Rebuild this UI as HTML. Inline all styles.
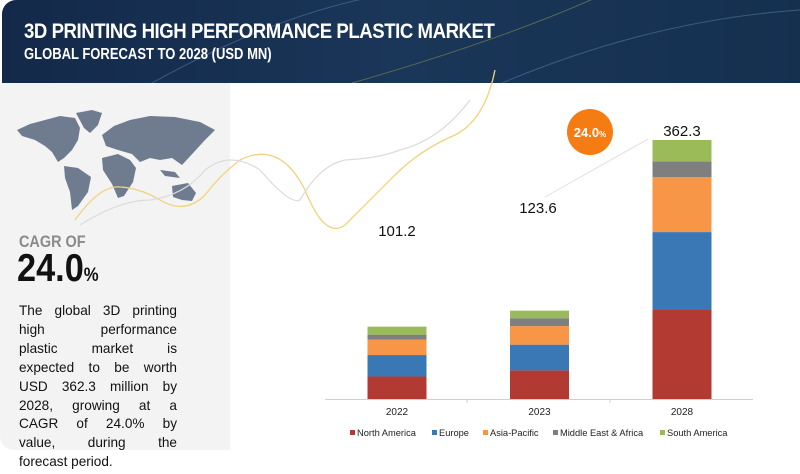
<!DOCTYPE html>
<html><head><meta charset="utf-8">
<style>
body{margin:0;width:800px;height:474px;overflow:hidden;background:#fff;font-family:"Liberation Sans",sans-serif;position:relative}
#hdr{position:absolute;left:2px;top:0;width:798px;height:83px;border-radius:14px 0 0 0;background:linear-gradient(90deg,#13294a,#1a3658 50%,#15304f);overflow:hidden}
#t1{position:absolute;left:22px;top:20px;color:#fff;font:bold 21px "Liberation Sans",sans-serif;letter-spacing:-0.5px;transform:scaleX(0.885);transform-origin:left}
#t2{position:absolute;left:22px;top:46px;color:#fff;font:bold 15.5px "Liberation Sans",sans-serif;transform:scaleX(0.84);transform-origin:left}
#panel{position:absolute;left:0;top:83px;width:230px;height:367px;background:#f3f3f3;border-radius:0 0 0 14px}
#cagr{position:absolute;left:19px;top:232px;color:#8a8a8a;font:bold 17px "Liberation Sans",sans-serif;transform:scaleX(0.85);transform-origin:left}
#big{position:absolute;left:17px;top:247px;font:bold 39px "Liberation Sans",sans-serif;color:#111;transform:scaleX(0.88);transform-origin:left}
#big span{font-size:19px}
#desc{position:absolute;left:19px;top:302px;width:158px;font-size:13.6px;line-height:18.9px;color:#111}
#desc div{text-align:justify;text-align-last:justify;white-space:nowrap}
#desc div.l{text-align-last:left}
</style></head><body>
<div id="hdr">
<svg width="798" height="83" style="position:absolute;left:0;top:0">
<path d="M150 83 Q300 0 420 -10" stroke="#3a5b80" fill="none" stroke-width="1"/>
<path d="M500 83 Q650 20 798 10" stroke="#3a5b80" fill="none"/>
<path d="M350 83 Q500 40 600 -5" stroke="#5a6a50" fill="none"/>
</svg>
<div id="t1">3D PRINTING HIGH PERFORMANCE PLASTIC MARKET</div>
<div id="t2">GLOBAL FORECAST TO 2028 (USD MN)</div>
</div>
<div id="panel"></div>
<svg width="800" height="474" style="position:absolute;left:0;top:0">
<g fill="#6f7b8e">
<path d="M17 130 L30 124 L45 120 L60 116 L75 118 L80 128 L78 140 L72 150 L64 158 L58 162 L52 152 L45 146 L35 140 L22 136 Z"/>
<path d="M76 113 L92 110 L102 113 L98 125 L90 133 L84 128 Z"/>
<path d="M64 166 L78 168 L91 177 L88 192 L78 206 L72 210 L70 192 L65 178 Z"/>
<path d="M102 158 L118 154 L130 160 L136 168 L133 182 L124 196 L118 198 L112 184 L103 170 Z"/>
<path d="M102 135 L114 126 L130 120 L150 116 L175 117 L200 122 L215 130 L205 140 L194 152 L182 165 L172 158 L160 160 L150 158 L140 162 L132 154 L118 150 L106 146 Z"/>
<path d="M172 186 L188 183 L196 193 L192 201 L182 200 L173 197 Z"/>
<path d="M160 170 L175 172 L180 178 L165 176 Z"/>
</g>
<path d="M75 220 Q100 185 120 187 Q140 188 160 200 Q185 215 205 195 Q220 175 240 160 Q280 140 305 190 Q325 240 345 225 Q375 195 395 175 Q420 150 455 135 Q485 120 495 70" stroke="#f2d27a" fill="none" stroke-width="1.3"/>
<path d="M80 225 Q120 200 150 200 Q185 195 205 170 Q230 150 260 170 Q290 205 300 200 Q320 165 345 160 Q380 158 400 150 Q440 140 470 100" stroke="#dcdcdc" fill="none" stroke-width="1.3"/>
</svg>
<div id="cagr">CAGR OF</div>
<div id="big">24.0<span>%</span></div>
<div id="desc">
<div>The global 3D printing</div><div>high performance</div><div>plastic market is</div><div>expected to be worth</div><div>USD 362.3 million by</div><div>2028, growing at a</div><div>CAGR of 24.0% by</div><div>value, during the</div><div class="l">forecast period.</div>
</div>
<svg id="chart" width="800" height="474" style="position:absolute;left:0;top:0"></svg>
<script>
const categories=["2022","2023","2028"];
const totals=["101.2","123.6","362.3"];
const northAmerica=[31.5,40,124.5];
const europe=[30,36,109];
const asiaPacific=[21.5,26,77];
const middleEastAfrica=[7,11,22];
const southAmerica=[11.2,10.6,29.8];
const seriesNames=["North America","Europe","Asia-Pacific","Middle East & Africa","South America"];
const colors=["#b33a32","#3a78b5","#f79646","#7f7f7f","#9bbb59"];
const series=[northAmerica,europe,asiaPacific,middleEastAfrica,southAmerica];
const NS="http://www.w3.org/2000/svg";
const svg=document.getElementById('chart');
const baseY=399, pxPer=259/362.3, barW=59;
const xCenter=i=>397+i*142.5;
const yScale=v=>v*pxPer;
function mk(t,a){const e=document.createElementNS(NS,t);for(const k in a)e.setAttribute(k,a[k]);svg.appendChild(e);return e;}
const ax=mk('line',{x1:325,y1:baseY+0.5,x2:753,y2:baseY+0.5,stroke:'#d0d0d0'});


[467,610].forEach(x=>{const t=mk('line',{x1:x,y1:baseY,x2:x,y2:baseY+4,stroke:'#d0d0d0'});

});
categories.forEach((c,i)=>{
 let y=baseY;
 series.forEach((s,j)=>{const h=yScale(s[i]);y-=h;
  const r=mk('rect',{x:xCenter(i)-barW/2,y:y,width:barW,height:h,fill:colors[j]});
  
  });
 const t=mk('text',{x:xCenter(i),y:baseY+16,'text-anchor':'middle','font-size':10,fill:'#222','font-family':'Liberation Sans'});
 t.textContent=c;
 
 
});
const lblPos=[[397,236],[538,213],[682,136]];
totals.forEach((v,i)=>{const t=mk('text',{x:lblPos[i][0],y:lblPos[i][1],'text-anchor':'middle','font-size':15,fill:'#111','font-family':'Liberation Sans'});
 t.textContent=v;
 
 });
const ar=mk('line',{x1:545,y1:197,x2:648,y2:139,stroke:'#e0e0e0','stroke-width':1});


const c=mk('circle',{cx:590,cy:132,r:23,fill:'#f57c13'});


const ct=mk('text',{x:590,y:137,'text-anchor':'middle','font-size':13,'font-weight':'bold',fill:'#fff','font-family':'Liberation Sans'});
ct.innerHTML='24.0<tspan font-size="8">%</tspan>';


const lx=[350,432,483,553,660];
seriesNames.forEach((n,j)=>{
 const r=mk('rect',{x:lx[j],y:430,width:5,height:5,fill:colors[j]});
 
 
 const t=mk('text',{x:lx[j]+7,y:436,'font-size':9.3,fill:'#222','font-family':'Liberation Sans'});
 t.textContent=n;
 
 
});
</script>
</body></html>
